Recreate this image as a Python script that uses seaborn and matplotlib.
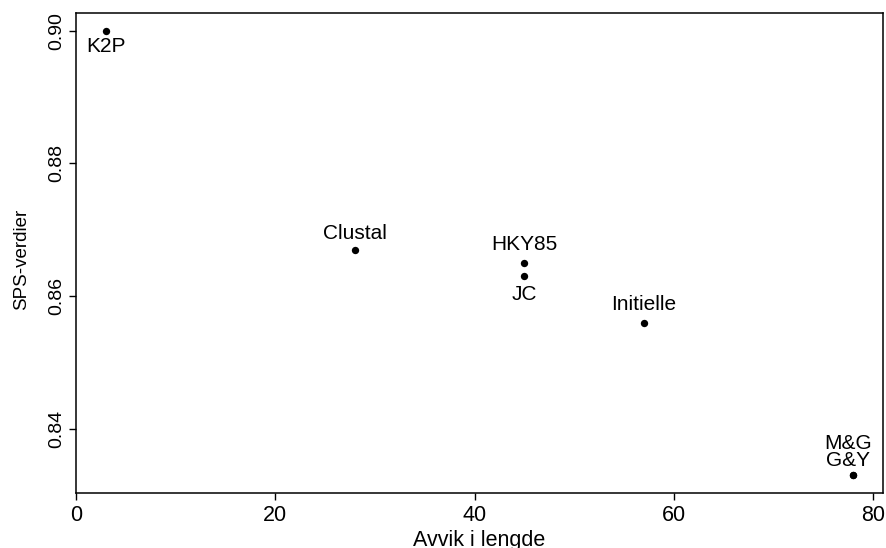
import matplotlib
matplotlib.use("Agg")
import matplotlib.pyplot as plt
import seaborn as sns
import pandas as pd

methods = ["K2P", "Clustal", "HKY85", "JC", "Initielle", "G&Y", "M&G"]
avvik = [3, 28, 45, 45, 57, 78, 78]
sps = [0.900, 0.867, 0.865, 0.863, 0.856, 0.833, 0.833]
x_ticks = [0, 20, 40, 60, 80]
y_ticks = [0.84, 0.86, 0.88, 0.90]

# label offsets in points (style, not data)
offsets = [(0, -11.5), (0, 12), (0, 13), (0, -13), (0, 13), (-4, 10.5), (-4, 23)]

sns.set_theme(style="white")
plt.rcParams['font.family'] = ['Liberation Sans', 'DejaVu Sans']
plt.rcParams['text.color'] = 'black'
plt.rcParams['axes.labelcolor'] = 'black'
plt.rcParams['xtick.color'] = 'black'
plt.rcParams['ytick.color'] = 'black'

df = pd.DataFrame({"Avvik i lengde": avvik, "SPS-verdier": sps, "method": methods})

fig = plt.figure(figsize=(8.87, 5.48), dpi=100)
ax = fig.add_axes([0.0857, 0.1004, 0.9098, 0.8759])
sns.scatterplot(data=df, x="Avvik i lengde", y="SPS-verdier", ax=ax,
                color="black", s=28, edgecolor="black", linewidth=0)

for m, xv, yv, off in zip(methods, avvik, sps, offsets):
    ax.annotate(m, (xv, yv), xytext=off, textcoords="offset points",
                ha="center", va="center", fontsize=15, color="black")

ax.set_xlim(0, 81)
ax.set_ylim(0.8303, 0.9027)
ax.set_xticks(x_ticks)
ax.set_xticklabels([str(t) for t in x_ticks], fontsize=15.5, color="black")
ax.set_yticks(y_ticks)
ax.set_yticklabels([f"{t:.2f}" for t in y_ticks], rotation=90, va="center",
                   fontsize=14, color="black")
ax.tick_params(axis="both", direction="out", length=5, width=1, color="black",
               left=True, bottom=True)
ax.tick_params(axis="x", pad=4)
ax.tick_params(axis="y", pad=3)
for sp in ax.spines.values():
    sp.set_visible(True)
    sp.set_color("black")
    sp.set_linewidth(1.1)
ax.set_xlabel("Avvik i lengde", fontsize=15.5, va="center", color="black")
ax.xaxis.set_label_coords(0.5, -0.098)
ax.set_ylabel("SPS-verdier", fontsize=13.5, va="center", color="black")
ax.yaxis.set_label_coords(-0.068, 0.4875)
ax.grid(False)
fig.savefig("out.png", dpi=100)
